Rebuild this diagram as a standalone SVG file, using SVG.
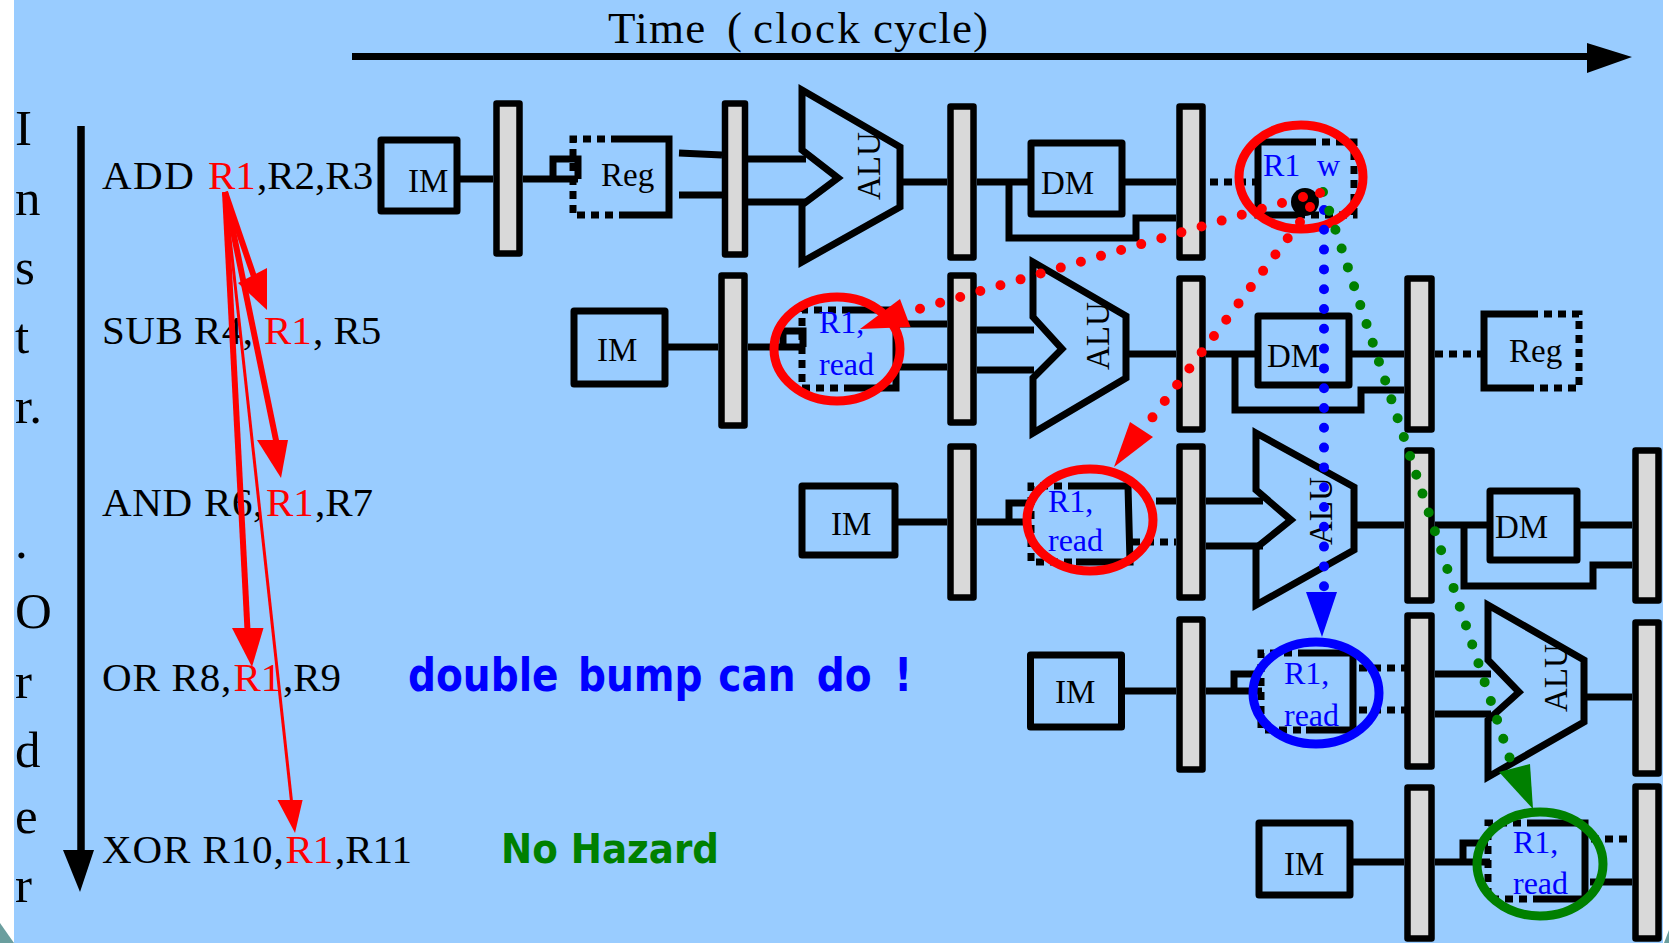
<svg xmlns="http://www.w3.org/2000/svg" width="1669" height="943" viewBox="0 0 1669 943">
<style>
text{font-family:"Liberation Serif","Times New Roman",serif}
.t{font-size:41px;fill:#000}
.v{font-size:51px;fill:#000}
.r{fill:#f00}
.b{font-size:33px;fill:#000}
.u{font-size:32px;fill:#00f}
.hand{font-family:"DejaVu Sans",sans-serif;font-weight:bold}
.w{fill:none;stroke:#000;stroke-width:7}
.d{fill:none;stroke:#000;stroke-width:7;stroke-dasharray:8 6}
.box{fill:none;stroke:#000;stroke-width:7;stroke-linejoin:round}
.latch{fill:#d9d9d9;stroke:#000;stroke-width:6.500;stroke-linejoin:round}
.alu{fill:none;stroke:#000;stroke-width:7;stroke-linejoin:miter}
.ring{fill:none;stroke-width:9}
.dots{fill:none;stroke-linecap:round;stroke-width:10}
</style>
<rect x="14" y="0" width="1649" height="943" fill="#99ccff"/>
<polygon points="0,923 14,943 0,943" fill="#6a9e9e"/>
<polygon points="1664,943 1669,930 1669,943" fill="#6a9e9e"/>

<g id="axes">
<text y="43" font-size="45"><tspan x="608" letter-spacing="1.250">Time</tspan> <tspan x="727">(</tspan> <tspan x="753" letter-spacing="2.300">clock</tspan> <tspan x="873" letter-spacing="1">cycle)</tspan></text>
<path d="M352 56.5H1590" stroke="#000" stroke-width="7" fill="none"/>
<polygon points="1587,43 1632,57 1587,73" fill="#000"/>
<path d="M81 126V855" stroke="#000" stroke-width="7.5" fill="none"/>
<polygon points="63,850 94,850 80,892" fill="#000"/>
<g class="v">
<text class="v" x="15" y="145">I</text><text class="v" x="15" y="215">n</text><text class="v" x="15" y="284">s</text><text class="v" x="15" y="353">t</text><text class="v" x="15" y="423">r.</text><text class="v" x="15" y="558">.</text><text class="v" x="15" y="628">O</text><text class="v" x="15" y="698">r</text><text class="v" x="15" y="767">d</text><text class="v" x="15" y="833">e</text><text class="v" x="15" y="902">r</text>
</g>
</g>

<g id="instructions">
<text class="t" y="189"><tspan x="102" letter-spacing="1.500">ADD</tspan> <tspan class="r" x="208">R1</tspan><tspan x="257">,R2,R3</tspan></text>
<text class="t" y="344"><tspan x="102" letter-spacing=".5">SUB R4,</tspan> <tspan class="r" x="264">R1</tspan><tspan x="313">, R5</tspan></text>
<text class="t" y="516"><tspan x="102" letter-spacing=".7">AND R6,</tspan><tspan class="r" x="266">R1</tspan><tspan x="315">,R7</tspan></text>
<text class="t" y="691"><tspan x="102" letter-spacing=".8">OR R8,</tspan><tspan class="r" x="233.500">R1</tspan><tspan x="283">,R9</tspan></text>
<text class="t" y="863"><tspan x="102" letter-spacing=".9">XOR R10,</tspan><tspan class="r" x="285.500">R1</tspan><tspan x="335">,R11</tspan></text>
</g>

<g id="notes">
<text class="hand" transform="translate(408 691) scale(.85 1)" font-size="46" fill="#00f"><tspan x="0">double</tspan> <tspan x="200">bump</tspan> <tspan x="365">can</tspan> <tspan x="481">do</tspan> <tspan x="572">!</tspan></text>
<text class="hand" x="501" y="863" font-size="41" fill="#008000" textLength="218" lengthAdjust="spacingAndGlyphs">No Hazard</text>
</g>

<g id="row1">
<rect class="box" x="381" y="140" width="76" height="71"/><text class="b" x="408" y="192">IM</text>
<path class="w" d="M457 179H493M523 179H578M553 179V159H578V179"/>
<rect class="latch" x="496.500" y="103.500" width="23" height="150"/>
<path class="d" d="M619 139H573V215H619"/><path class="w" d="M619 139H669V215H619"/><text class="b" x="601" y="186">Reg</text>
<path class="w" d="M679 153L722 155M679 195H722M748 159H806M748 202H806"/>
<rect class="latch" x="725" y="103.500" width="20" height="151"/>
<polygon class="alu" points="802,90 900,147 900,207 802,262 802,205 838,178 802,150"/>
<text class="b" transform="translate(880 200) rotate(-90)">ALU</text>
<path class="w" d="M900 182H947M977 182H1029M1124 182H1176M1009 182V238H1136V218H1176"/>
<rect class="latch" x="950.500" y="106.500" width="23" height="151"/>
<rect class="box" x="1031" y="143" width="91" height="71"/><text class="b" x="1041" y="194">DM</text>
<rect class="latch" x="1179.500" y="106.500" width="23" height="151"/>
<path class="d" d="M1210 182H1256"/>
<path class="w" d="M1308 142H1258V215H1300"/><path class="d" d="M1308 142H1354V215H1300"/>
<text class="u" x="1263" y="176">R1</text><text class="u" x="1317" y="176">w</text>
<ellipse cx="1305" cy="202" rx="14" ry="14" fill="#000"/>
</g>

<g id="row2">
<rect class="box" x="574" y="311" width="91" height="73"/><text class="b" x="597" y="361">IM</text>
<path class="w" d="M665 347H718M748 347H803M783 347V331H803V347"/>
<rect class="latch" x="721.500" y="275.500" width="23" height="150"/>
<path class="d" d="M850 310H802V388H850"/><path class="w" d="M850 310H896V388H850"/>
<text class="u" x="819" y="333">R1,</text><text class="u" x="819" y="375">read</text>
<path class="w" d="M899 324H947M899 367H947M977 330H1034M977 370H1034"/>
<rect class="latch" x="950.500" y="275.500" width="23" height="147"/>
<polygon class="alu" points="1033,262 1126,316 1126,378 1033,433 1033,378 1062,349 1033,317"/>
<text class="b" transform="translate(1109 370) rotate(-90)">ALU</text>
<path class="w" d="M1126 354H1176M1206 354H1255M1349 354H1404M1235 354V410H1361V390H1404"/>
<rect class="latch" x="1179.500" y="278.500" width="23" height="151"/>
<rect class="box" x="1258" y="316" width="91" height="69"/><text class="b" x="1267" y="367">DM</text>
<rect class="latch" x="1407.500" y="278.500" width="24" height="151"/>
<path class="d" d="M1435 354H1484"/>
<path class="w" d="M1530 314H1484V388H1530"/><path class="d" d="M1530 314H1579V388H1530"/>
<text class="b" x="1509" y="362">Reg</text>
</g>

<g id="row3">
<rect class="box" x="802" y="486" width="93" height="69"/><text class="b" x="831" y="535">IM</text>
<path class="w" d="M895 522H947M977 522H1031M1009 522V503H1034"/>
<rect class="latch" x="950.500" y="446.500" width="23" height="151"/>
<path class="d" d="M1076 486H1031V562H1076"/><path class="w" d="M1076 486H1128L1130 562H1076"/>
<text class="u" x="1048" y="512">R1,</text><text class="u" x="1048" y="551">read</text>
<path class="w" d="M1156 501H1176M1206 501H1263M1206 546H1263"/><path class="d" d="M1132 542H1176"/>
<rect class="latch" x="1179.500" y="446.500" width="23" height="151"/>
<polygon class="alu" points="1256,433 1354,487 1354,550 1256,605 1256,548 1291,520 1256,490"/>
<text class="b" transform="translate(1332 545) rotate(-90)">ALU</text>
<path class="w" d="M1354 525H1404M1435 525H1488M1579 525H1632M1464 525V586H1593V565H1632"/>
<rect class="latch" x="1407.500" y="450.500" width="24" height="150"/>
<rect class="box" x="1490" y="491" width="87" height="69"/><text class="b" x="1495" y="538">DM</text>
<rect class="latch" x="1635.500" y="450.500" width="23" height="150"/>
</g>

<g id="row4">
<rect class="box" x="1030.500" y="655" width="91" height="72"/><text class="b" x="1055" y="703">IM</text>
<path class="w" d="M1124 691H1176M1206 691H1262M1234 691V674H1261"/>
<rect class="latch" x="1179.500" y="619.500" width="23" height="150"/>
<path class="d" d="M1306 653H1261V730H1306"/><path class="w" d="M1306 653H1353V730H1306"/>
<text class="u" x="1284" y="684">R1,</text><text class="u" x="1284" y="726">read</text>
<path class="d" d="M1359 668H1405M1359 710H1405"/><path class="w" d="M1435 674H1491M1435 714H1491"/>
<rect class="latch" x="1407.500" y="615.500" width="24" height="151"/>
<polygon class="alu" points="1488,605 1584,660 1584,722 1488,777 1488,720 1519,692 1488,660"/>
<text class="b" transform="translate(1567 712) rotate(-90)">ALU</text>
<path class="w" d="M1584 697H1632"/>
<rect class="latch" x="1635.500" y="622.500" width="23" height="151"/>
</g>

<g id="row5">
<rect class="box" x="1259" y="823" width="91" height="72"/><text class="b" x="1284" y="875">IM</text>
<path class="w" d="M1353 862H1404M1435 862H1490M1463 862V843H1488"/>
<rect class="latch" x="1407.500" y="787.500" width="24" height="151"/>
<path class="d" d="M1535 823H1488V899H1535"/><path class="w" d="M1535 823H1585V899H1535"/>
<text class="u" x="1513" y="853">R1,</text><text class="u" x="1513" y="894">read</text>
<path class="d" d="M1591 839H1636"/><path class="w" d="M1590 882H1632"/>
<rect class="latch" x="1635.500" y="786.500" width="23" height="152"/>
</g>

<g id="connectors">
<g stroke="#f00" fill="none">
<path d="M225 192L262 300" stroke-width="6"/>
<path d="M225 192L278 450" stroke-width="6"/>
<path d="M225 192L248 640" stroke-width="6"/>
<path d="M225 192L293 815" stroke-width="3"/>
</g>
<g fill="#f00">
<polygon points="238,283 267,268 267,310"/>
<polygon points="257,440 288,440 281,478"/>
<polygon points="232,628 263.500,628 252,667"/>
<polygon points="277.500,800 302.600,800 295,833"/>
</g>
<ellipse class="ring" cx="1301" cy="177" rx="62" ry="52" stroke="#f00"/>
<ellipse class="ring" cx="837" cy="349" rx="63" ry="52" stroke="#f00"/>
<ellipse class="ring" cx="1090" cy="520" rx="63" ry="51" stroke="#f00"/>
<ellipse class="ring" cx="1316" cy="693" rx="63" ry="51" stroke="#00f"/>
<ellipse class="ring" cx="1540" cy="864" rx="63" ry="52" stroke="#008000"/>
<path class="dots" stroke="#f00" stroke-dasharray="0 20.950" d="M1282 203L919 309"/>
<path class="dots" stroke="#f00" stroke-dasharray="0 20.400" d="M1300 222L1152 418"/>
<path class="dots" stroke="#00f" stroke-dasharray="0 19.800" d="M1324 210V587"/>
<path class="dots" stroke="#008000" stroke-dasharray="0 19.850" d="M1323 192L1510 759"/>
<circle cx="1303" cy="197" r="5" fill="#f00"/><circle cx="1310" cy="207" r="5" fill="#f00"/><circle cx="1320" cy="193" r="5" fill="#f00"/>
<polygon points="860,329 900,299 910.500,327" fill="#f00"/>
<polygon points="1130,422 1153,437 1114,467" fill="#f00"/>
<polygon points="1306,592 1337,592 1322,637" fill="#00f"/>
<polygon points="1499,772 1530,764 1533,809" fill="#008000"/>
</g>
</svg>
